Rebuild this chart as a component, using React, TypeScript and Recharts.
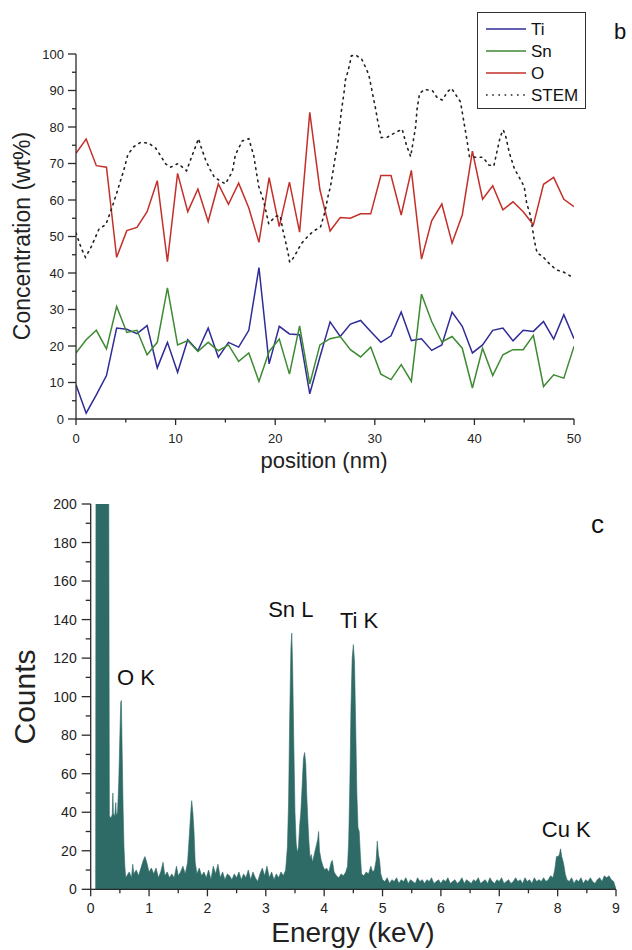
import React from 'react';
import { LineChart, Line, XAxis, YAxis, Legend, AreaChart, Area, ReferenceDot } from 'recharts';

const FONT = '"Liberation Sans", Arial, Helvetica, sans-serif';
const AXIS = '#2a2a2a';

// ---------- panel b : line profile ----------
const positions = [0, 1.02, 2.04, 3.06, 4.08, 5.1, 6.12, 7.14, 8.16, 9.18, 10.2, 11.22, 12.24, 13.27, 14.29, 15.31, 16.33, 17.35, 18.37, 19.39, 20.41, 21.43, 22.45, 23.47, 24.49, 25.51, 26.53, 27.55, 28.57, 29.59, 30.61, 31.63, 32.65, 33.67, 34.69, 35.71, 36.73, 37.76, 38.78, 39.8, 40.82, 41.84, 42.86, 43.88, 44.9, 45.92, 46.94, 47.96, 48.98, 50];
const tiValues = [9.4, 1.6, 6.6, 11.9, 24.9, 24.6, 23.4, 25.6, 14.0, 21.0, 12.8, 21.7, 18.7, 24.9, 16.9, 21.0, 19.7, 24.3, 41.5, 15.1, 25.4, 23.3, 23.1, 6.9, 17.0, 26.6, 22.6, 26.0, 27.0, 24.0, 21.0, 22.8, 29.3, 21.5, 22.0, 18.8, 20.3, 29.3, 25.4, 18.1, 20.3, 24.3, 24.9, 21.4, 24.3, 24.0, 26.7, 21.9, 28.6, 22.0];
const snValues = [18.1, 21.7, 24.3, 19.2, 30.8, 23.7, 24.3, 17.6, 21.0, 35.9, 20.3, 21.5, 18.5, 21.0, 18.7, 20.3, 15.8, 18.1, 10.3, 18.5, 21.9, 12.3, 25.5, 9.6, 20.3, 22.0, 22.6, 19.0, 17.0, 19.7, 12.3, 10.8, 14.9, 10.3, 34.2, 26.7, 21.1, 22.6, 19.4, 8.5, 19.4, 11.9, 17.6, 19.0, 19.0, 22.9, 8.9, 12.1, 11.2, 19.9];
const oValues = [72.8, 76.7, 69.4, 69.0, 44.3, 51.6, 52.5, 56.8, 65.3, 43.1, 67.3, 56.8, 63.0, 54.1, 64.4, 58.8, 64.6, 57.8, 48.4, 66.1, 52.7, 64.9, 51.2, 84.0, 62.8, 51.5, 55.2, 55.0, 56.2, 56.2, 66.7, 66.7, 55.9, 68.1, 43.8, 54.3, 58.9, 48.2, 55.9, 73.4, 60.2, 63.9, 57.3, 59.5, 56.8, 53.2, 64.3, 66.2, 60.2, 58.2];

const stemPositions = [0, 0.5, 0.95, 1.5, 2.3, 3.0, 3.6, 4.1, 4.8, 5.2, 5.8, 6.5, 7.3, 8.0, 8.5, 9.0, 9.5, 10.25, 11.1, 11.55, 12.3, 12.55, 13.05, 13.5, 13.9, 15.0, 15.7, 16.0, 16.7, 17.35, 17.85, 18.1, 18.35, 18.85, 19.35, 20.0, 20.5, 20.8, 21.0, 21.3, 21.45, 21.7, 22.2, 22.6, 23.2, 23.8, 24.55, 25.0, 25.3, 25.55, 25.8, 26.05, 26.3, 26.45, 26.65, 26.9, 27.05, 27.3, 27.5, 27.65, 28.1, 28.7, 29.05, 29.4, 29.85, 30.1, 30.3, 30.65, 31.25, 31.95, 32.75, 33.2, 33.6, 33.85, 34.1, 34.25, 34.5, 35.0, 35.8, 36.3, 36.8, 37.3, 37.7, 38.6, 39.05, 39.3, 39.5, 40.2, 40.85, 41.45, 41.95, 42.3, 42.6, 42.9, 43.15, 43.5, 44.0, 44.5, 45.0, 45.25, 45.65, 46.0, 46.3, 46.8, 47.4, 48.2, 49.0, 49.8];
const stemValues = [51, 47, 44.3, 47, 52, 53.3, 57.8, 62, 68.2, 72.4, 74.6, 75.8, 75.6, 74.2, 72.1, 69.9, 69, 70, 68, 71.4, 76.8, 74.6, 70.7, 68.2, 66.2, 64.4, 67.8, 72.4, 76.2, 76.8, 72.1, 67.8, 63.7, 59.6, 53.5, 55.5, 55.7, 51.4, 49.1, 45.4, 43, 43.6, 45.9, 48, 49.8, 51.4, 52.6, 56.8, 61, 63.7, 67.8, 72.1, 76, 79.7, 84.5, 89.2, 92.9, 95.2, 97.5, 99.5, 99.7, 98.5, 96.5, 94.3, 88.1, 84.7, 81.5, 77.1, 77.2, 78.3, 79.4, 74.8, 71.9, 76, 80.1, 85.1, 89.2, 90.3, 89.9, 87.9, 87.4, 89.7, 90.6, 86.9, 79.7, 75.6, 71.9, 71.7, 71.7, 69.6, 69.3, 73.7, 77.4, 79.2, 77.4, 73, 68.7, 66.2, 63.7, 59.1, 55.5, 49.1, 45.4, 44.7, 42.9, 40.9, 40.2, 38.9];

const concTicks = [0, 5, 10, 15, 20, 25, 30, 35, 40, 45, 50, 55, 60, 65, 70, 75, 80, 85, 90, 95, 100];
const posTicks = [0, 5, 10, 15, 20, 25, 30, 35, 40, 45, 50];

const seriesStyle = [
  { key: 'Ti', color: '#2f2b97', dash: undefined as string | undefined },
  { key: 'Sn', color: '#3e8a33', dash: undefined as string | undefined },
  { key: 'O', color: '#c3302a', dash: undefined as string | undefined },
  { key: 'STEM', color: '#222222', dash: '1.6 4.6' },
];

// ---------- panel c : EDX spectrum [keV, counts] ----------
const lowEnergyPart = [
  [0.0, 0], [0.085, 0], [0.09, 200], [0.31, 200], [0.32, 38], [0.35, 37], [0.37, 39], [0.38, 50], [0.39, 38], [0.4, 39], [0.41, 37], [0.43, 45], [0.44, 38], [0.46, 40], [0.48, 55], [0.5, 80], [0.515, 97], [0.525, 98], [0.54, 70], [0.555, 42], [0.57, 22], [0.585, 12], [0.6, 6],
  [0.62, 7], [0.66, 9], [0.7, 6], [0.72, 13], [0.74, 8], [0.78, 10], [0.82, 7], [0.86, 11], [0.9, 15], [0.93, 17], [0.96, 14], [1.0, 9], [1.04, 11], [1.08, 8], [1.12, 11], [1.16, 6], [1.2, 9], [1.24, 14], [1.27, 7], [1.31, 9], [1.35, 6], [1.39, 8], [1.43, 6], [1.47, 12], [1.5, 7], [1.54, 9], [1.58, 12], [1.62, 8], [1.66, 14], [1.69, 28], [1.71, 38], [1.73, 46], [1.75, 40], [1.77, 30], [1.79, 14], [1.82, 8], [1.86, 11], [1.9, 7], [1.94, 9], [1.98, 6], [2.02, 10], [2.06, 5], [2.1, 12], [2.14, 8], [2.18, 13], [2.22, 6], [2.26, 9], [2.3, 5], [2.34, 8], [2.38, 7], [2.42, 5], [2.46, 8], [2.5, 6], [2.54, 9], [2.58, 5], [2.62, 8], [2.66, 6], [2.7, 10], [2.74, 5], [2.78, 9], [2.82, 6], [2.86, 4], [2.9, 8], [2.94, 11], [2.98, 7], [3.02, 12], [3.06, 6], [3.1, 9], [3.14, 5], [3.18, 8], [3.22, 6], [3.26, 9], [3.3, 7],
];
const snPart = [
  [3.34, 10], [3.37, 22], [3.39, 45], [3.41, 90], [3.43, 125], [3.445, 133], [3.46, 115], [3.48, 75], [3.5, 40], [3.52, 24], [3.54, 19], [3.56, 22], [3.58, 33], [3.6, 40], [3.62, 52], [3.645, 68], [3.665, 71], [3.685, 65], [3.7, 50], [3.72, 36], [3.74, 24], [3.76, 16], [3.78, 18], [3.8, 14], [3.83, 18], [3.86, 22], [3.89, 26], [3.905, 30], [3.92, 20], [3.95, 15], [3.98, 12], [4.01, 10], [4.04, 11], [4.08, 9], [4.12, 14], [4.14, 15], [4.17, 9], [4.21, 7], [4.25, 6], [4.29, 8], [4.33, 7], [4.37, 9],
];
const tiPart = [
  [4.4, 12], [4.42, 25], [4.44, 55], [4.46, 95], [4.48, 120], [4.5, 127], [4.52, 118], [4.54, 85], [4.56, 50], [4.58, 32], [4.6, 30], [4.62, 18], [4.64, 8], [4.68, 7], [4.72, 9], [4.76, 8], [4.8, 12], [4.83, 9], [4.86, 10], [4.89, 15], [4.91, 25], [4.93, 18], [4.95, 15], [4.97, 8], [5.0, 5],
];
const highEnergyPart = [
  [5.04, 4], [5.08, 6], [5.12, 3], [5.16, 5], [5.2, 4], [5.24, 6], [5.28, 3], [5.32, 5], [5.36, 4], [5.4, 6], [5.44, 3], [5.48, 5], [5.52, 4], [5.56, 3], [5.6, 6], [5.64, 4], [5.68, 5], [5.72, 3], [5.76, 5], [5.8, 4], [5.84, 6], [5.88, 3], [5.92, 4], [5.96, 5], [6.0, 3], [6.04, 5], [6.08, 4], [6.12, 6], [6.16, 3], [6.2, 4], [6.24, 5], [6.28, 3], [6.32, 4], [6.36, 6], [6.4, 3], [6.44, 5], [6.48, 4], [6.52, 3], [6.56, 5], [6.6, 4], [6.64, 6], [6.68, 3], [6.72, 4], [6.76, 5], [6.8, 3], [6.84, 6], [6.88, 4], [6.92, 3], [6.96, 5], [7.0, 4], [7.04, 6], [7.08, 3], [7.12, 4], [7.16, 5], [7.2, 3], [7.24, 4], [7.28, 6], [7.32, 4], [7.36, 5], [7.4, 3], [7.44, 6], [7.48, 4], [7.52, 5], [7.56, 3], [7.6, 6], [7.64, 4], [7.68, 5], [7.72, 4], [7.76, 6], [7.8, 4], [7.84, 5], [7.88, 7], [7.92, 6],
  [7.95, 10], [7.98, 17], [8.01, 17], [8.03, 18], [8.05, 21], [8.07, 17], [8.09, 15], [8.11, 12], [8.13, 8], [8.16, 5], [8.2, 4], [8.24, 6], [8.28, 3], [8.32, 5], [8.36, 4], [8.4, 6], [8.44, 3], [8.48, 5], [8.52, 4], [8.56, 6], [8.6, 4], [8.64, 3], [8.68, 5], [8.72, 6], [8.76, 4], [8.8, 7], [8.84, 6], [8.88, 7], [8.92, 5], [8.96, 4], [9.0, 0],
];
const countTicks = [0, 10, 20, 30, 40, 50, 60, 70, 80, 90, 100, 110, 120, 130, 140, 150, 160, 170, 180, 190, 200];
const energyTicks = [0, 0.5, 1, 1.5, 2, 2.5, 3, 3.5, 4, 4.5, 5, 5.5, 6, 6.5, 7, 7.5, 8, 8.5, 9];
const peakLabels = [
  { text: 'O K', e: 0.45, c: 106 },
  { text: 'Sn L', e: 3.04, c: 141.4 },
  { text: 'Ti K', e: 4.27, c: 135.7 },
  { text: 'Cu K', e: 7.73, c: 27.2 },
];

const elementRows = positions.map((x, i) => ({ x, Ti: tiValues[i], Sn: snValues[i], O: oValues[i] }));
const stemRows = stemPositions.map((x, i) => ({ x, STEM: stemValues[i] }));
const spectrumRows = [...lowEnergyPart, ...snPart, ...tiPart, ...highEnergyPart].map(([e, c]) => ({ e, c }));

const isMajor = (v: number, step: number) => Math.abs(v / step - Math.round(v / step)) < 1e-6;

const makeYTick = (step: number, majorLen: number, minorLen: number, fs: number, gap: number) => (p: any) => {
  const v = p.payload.value;
  const maj = isMajor(v, step);
  const len = maj ? majorLen : minorLen;
  return (
    <g>
      <line x1={p.x} x2={p.x - len} y1={p.y} y2={p.y} stroke={AXIS} strokeWidth={1.3} />
      {maj && (
        <text x={p.x - majorLen - gap} y={p.y} textAnchor="end" dominantBaseline="central" fontSize={fs} fontFamily={FONT} fill="#222">
          {v}
        </text>
      )}
    </g>
  );
};

const makeXTick = (step: number, majorLen: number, minorLen: number, fs: number, base: number) => (p: any) => {
  const v = p.payload.value;
  const maj = isMajor(v, step);
  const len = maj ? majorLen : minorLen;
  return (
    <g>
      <line x1={p.x} x2={p.x} y1={p.y} y2={p.y + len} stroke={AXIS} strokeWidth={1.3} />
      {maj && (
        <text x={p.x} y={p.y + base} textAnchor="middle" fontSize={fs} fontFamily={FONT} fill="#222">
          {v}
        </text>
      )}
    </g>
  );
};

const renderLegend = () => (
  <div style={{ width: 109, height: 97, border: '1px solid #333', boxSizing: 'border-box', background: '#fff' }}>
    <svg width={107} height={95} style={{ display: 'block' }}>
      {seriesStyle.map((s, i) => {
        const y = 16 + i * 22;
        return (
          <g key={s.key}>
            <line x1={8} x2={48} y1={y} y2={y} stroke={s.color} strokeWidth={1.5} strokeDasharray={s.dash} />
            <text x={53} y={y} dominantBaseline="central" fontSize={17} fontFamily={FONT} fill="#111">
              {s.key}
            </text>
          </g>
        );
      })}
    </svg>
  </div>
);

export default function App() {
  return (
    <div style={{ position: 'absolute', left: 0, top: 0, width: 632, height: 950, background: '#fff' }}>
      <div style={{ position: 'absolute', left: 0, top: 0 }}>
        <LineChart width={632} height={480} margin={{ top: 54, right: 58, bottom: 31, left: 16 }}>
          <XAxis
            type="number"
            dataKey="x"
            domain={[0, 50]}
            ticks={posTicks}
            interval={0}
            height={30}
            tickSize={0}
            tickMargin={0}
            tickLine={false}
            stroke={AXIS}
            strokeWidth={1.3}
            tick={makeXTick(10, 6, 3.5, 13, 23.5)}
            allowDataOverflow
          />
          <YAxis
            type="number"
            domain={[0, 100]}
            ticks={concTicks}
            interval={0}
            width={60}
            tickSize={0}
            tickMargin={0}
            tickLine={false}
            stroke={AXIS}
            strokeWidth={1.3}
            tick={makeYTick(10, 8, 4, 13, 4)}
            allowDataOverflow
          />
          <Line data={elementRows} dataKey="Ti" name="Ti" type="linear" stroke={seriesStyle[0].color} strokeWidth={1.5} dot={false} activeDot={false} isAnimationActive={false} />
          <Line data={elementRows} dataKey="Sn" name="Sn" type="linear" stroke={seriesStyle[1].color} strokeWidth={1.5} dot={false} activeDot={false} isAnimationActive={false} />
          <Line data={elementRows} dataKey="O" name="O" type="linear" stroke={seriesStyle[2].color} strokeWidth={1.5} dot={false} activeDot={false} isAnimationActive={false} />
          <Line data={stemRows} dataKey="STEM" name="STEM" type="linear" stroke={seriesStyle[3].color} strokeWidth={1.6} strokeDasharray={seriesStyle[3].dash} strokeLinecap="round" dot={false} activeDot={false} isAnimationActive={false} />
          <Legend layout="vertical" align="center" verticalAlign="middle" content={renderLegend} wrapperStyle={{ left: 477, top: 12, width: 109, height: 97 }} />
        </LineChart>
      </div>

      <div style={{ position: 'absolute', left: 0, top: 480 }}>
        <AreaChart width={632} height={470} data={spectrumRows} margin={{ top: 24, right: 16, bottom: 20.7, left: 20.7 }}>
          <XAxis
            type="number"
            dataKey="e"
            domain={[0, 9]}
            ticks={energyTicks}
            interval={0}
            height={40}
            tickSize={0}
            tickMargin={0}
            tickLine={false}
            stroke={AXIS}
            strokeWidth={1.3}
            tick={makeXTick(1, 7, 4, 14, 24)}
            allowDataOverflow
          />
          <YAxis
            type="number"
            domain={[0, 200]}
            ticks={countTicks}
            interval={0}
            width={70}
            tickSize={0}
            tickMargin={0}
            tickLine={false}
            stroke={AXIS}
            strokeWidth={1.3}
            tick={makeYTick(20, 9, 5, 14, 5)}
            allowDataOverflow
          />
          <Area type="linear" dataKey="c" stroke="#2e6a66" strokeWidth={0.6} fill="#2e6a66" fillOpacity={1} dot={false} activeDot={false} isAnimationActive={false} />
          {peakLabels.map((p) => (
            <ReferenceDot
              key={p.text}
              x={p.e}
              y={p.c}
              r={0}
              fill="none"
              stroke="none"
              ifOverflow="visible"
              label={(lp: any) => (
                <text x={lp.viewBox.x} y={lp.viewBox.y} textAnchor="start" fontSize={22} fontFamily={FONT} fill="#111">
                  {p.text}
                </text>
              )}
            />
          ))}
        </AreaChart>
      </div>

      <svg width={632} height={950} style={{ position: 'absolute', left: 0, top: 0, pointerEvents: 'none' }}>
        <text x={22} y={236} transform="rotate(-90, 22, 236)" textAnchor="middle" dominantBaseline="central" fontSize={23} fontFamily={FONT} fill="#222">
          Concentration (wt%)
        </text>
        <text x={324} y={468} textAnchor="middle" fontSize={22} fontFamily={FONT} fill="#222">
          position (nm)
        </text>
        <text x={614} y={39} fontSize={22} fontFamily={FONT} fill="#111">
          b
        </text>
        <text x={24} y={697} transform="rotate(-90, 24, 697)" textAnchor="middle" dominantBaseline="central" fontSize={30} fontFamily={FONT} fill="#222">
          Counts
        </text>
        <text x={353} y={942} textAnchor="middle" fontSize={28} fontFamily={FONT} fill="#222">
          Energy (keV)
        </text>
        <text x={591} y={533} fontSize={26} fontFamily={FONT} fill="#111">
          c
        </text>
      </svg>
    </div>
  );
}
